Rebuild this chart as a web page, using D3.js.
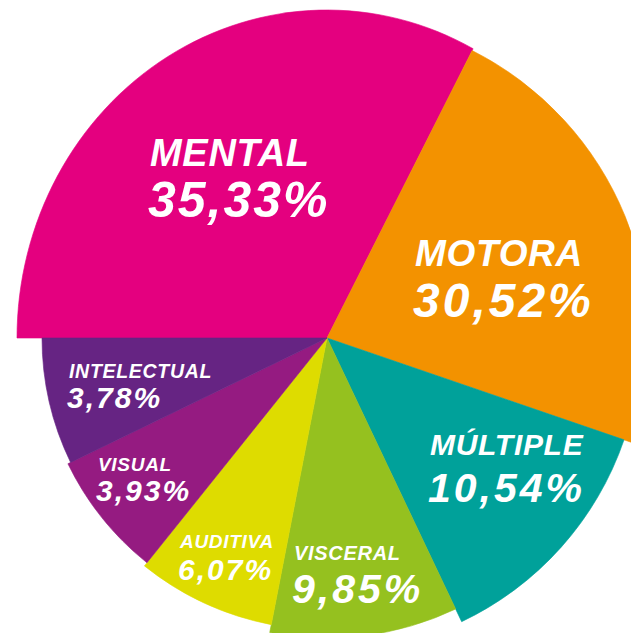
<!DOCTYPE html>
<html>
<head>
<meta charset="utf-8">
<script src="https://cdn.jsdelivr.net/npm/d3@7"></script>
<style>
  html, body { margin: 0; padding: 0; background: #fff; }
  svg text {
    font-family: "Liberation Sans", Arial, Helvetica, sans-serif;
    font-weight: bold;
    font-style: italic;
    fill: #fff;
  }
</style>
</head>
<body>
<svg id="chart" width="631" height="633"></svg>
<script>
// categories, clockwise from 9 o'clock
const categories = ['MENTAL', 'MOTORA', 'MÚLTIPLE', 'VISCERAL', 'AUDITIVA', 'VISUAL', 'INTELECTUAL'];
// printed percentages
const percentages = [35.33, 30.52, 10.54, 9.85, 6.07, 3.93, 3.78];
// share of the circle each wedge really takes in the artwork (the drawing is not to scale)
const wedgeShare = [32.44, 22.81, 12.69, 10.11, 7.69, 7.06, 7.19];
const colors = ['#e4007f', '#f39200', '#00a19a', '#95c11f', '#dedc00', '#951b81', '#662483'];

// ---- layout ----
let width = 631,
    height = 633,
    cx = 327,
    cy = 338;

const outerR = [310, 322, 314, 300, 292, 288, 285]; // every wedge has its own radius
const mentalStretch = 1.058;                         // the big pink wedge is a bit taller than wide
// label: left x, baseline of name, baseline of value (from pie centre), font sizes, tracking of value
const labelAt = [
  [-177, -172, -121, 38, 50, 2],
  [  88,  -72,  -21, 37, 48, 3],
  [ 103,  117,  164, 30, 41, 3],
  [ -33,  222,  265, 20, 41, 3],
  [-147,  210,  242, 19, 30, 2],
  [-229,  133,  163, 19, 30, 2],
  [-258,   40,   70, 19.5, 30, 2]
];

const es = d3.formatLocale({decimal: ',', thousands: '.', grouping: [3], currency: ['', '€']});
const fmt = es.format('.2f');

const rows = categories.map((c, i) => ({
  name: c, pct: percentages[i], share: wedgeShare[i], color: colors[i], r: outerR[i], lab: labelAt[i]
}));

const svg = d3.select('#chart');
const g = svg.append('g').attr('transform', `translate(${cx},${cy})`);

const pie = d3.pie()
  .sort(null)
  .value(d => d.share)
  .startAngle(-Math.PI / 2)
  .endAngle(Math.PI * 1.5);

const arc = d3.arc()
  .innerRadius(0)
  .outerRadius(d => d.data.r);

// angle before the vertical stretch so that the edge lands where it should on screen
const unstretch = a => Math.atan2(mentalStretch * Math.sin(a), Math.cos(a));

g.selectAll('path')
  .data(pie(rows))
  .enter()
  .append('path')
  .attr('d', (d, i) => i === 0
    ? arc(Object.assign({}, d, {startAngle: unstretch(d.startAngle), endAngle: unstretch(d.endAngle)}))
    : arc(d))
  .attr('transform', (d, i) => i === 0 ? `scale(1,${mentalStretch})` : null)
  .attr('fill', d => d.data.color)
  .attr('stroke', d => d.data.color)
  .attr('stroke-width', 0.6);

let labels = g.selectAll('text.lbl')
  .data(rows)
  .enter()
  .append('text')
  .attr('class', 'lbl');

labels.append('tspan')
  .attr('x', d => d.lab[0])
  .attr('y', d => d.lab[1])
  .attr('font-size', d => d.lab[3])
  .attr('letter-spacing', 0.7)
  .text(d => d.name);

labels.append('tspan')
  .attr('x', d => d.lab[0] - 2)
  .attr('y', d => d.lab[2])
  .attr('font-size', d => d.lab[4])
  .attr('letter-spacing', d => d.lab[5])
  .text(d => fmt(d.pct) + '%');
</script>
</body>
</html>
